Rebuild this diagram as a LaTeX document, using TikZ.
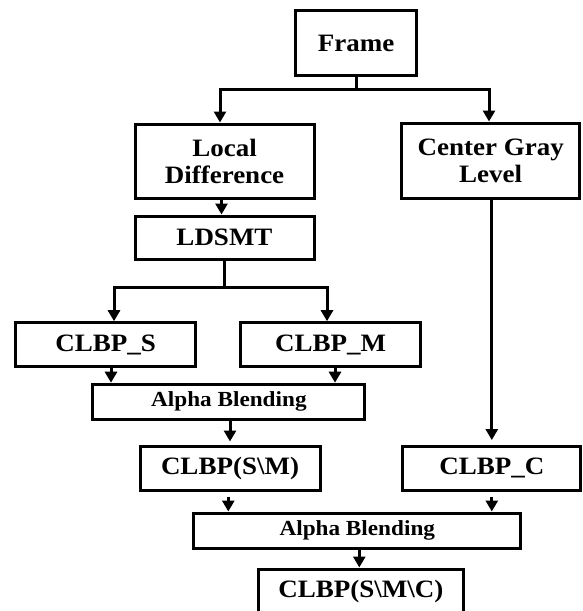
\documentclass[tikz,border=0pt]{standalone}
\usepackage{fontspec}
\setmainfont{Liberation Serif}[FakeStretch=1.08]
\usetikzlibrary{arrows.meta}
\begin{document}
\begin{tikzpicture}[x=1pt,y=-1pt,
  box/.style={draw,line width=3pt,inner sep=0pt,align=center,
    font=\fontsize{25}{27}\selectfont\bfseries},
  small/.style={font=\fontsize{21.5}{23}\selectfont\bfseries},
  ln/.style={line width=3pt},
  arr/.style={line width=3pt,-{Triangle[width=12pt,length=11pt]}}]
\useasboundingbox[fill=white] (0,0) rectangle (582,611);
\node[box,minimum width=121.5pt,minimum height=65pt] (frame) at (356,43.2) {Frame};
\node[box,minimum width=179pt,minimum height=74pt] (ld) at (224.5,161) {Local\\Difference};
\node[box,minimum width=178.5pt,minimum height=75pt] (cgl) at (490.7,160.5) {Center Gray\\Level};
\node[box,minimum width=179pt,minimum height=43pt] (ldsmt) at (224.5,237.5) {LDSMT};
\node[box,minimum width=180pt,minimum height=44pt] (clbps) at (105.6,344.7) {CLBP\_S};
\node[box,minimum width=179.5pt,minimum height=44pt] (clbpm) at (330.7,344.7) {CLBP\_M};
\node[box,small,minimum width=272pt,minimum height=35pt] (ab1) at (228.9,401.7) {Alpha Blending};
\node[box,minimum width=180pt,minimum height=44pt] (clbpsm) at (230,468) {CLBP(S\textbackslash M)};
\node[box,minimum width=178pt,minimum height=43.5pt] (clbpc) at (491.8,468.3) {CLBP\_C};
\node[box,small,minimum width=327pt,minimum height=35pt] (ab2) at (357.3,530.5) {Alpha Blending};
\node[box,minimum width=205.6pt,minimum height=44pt] (final) at (360.8,591) {CLBP(S\textbackslash M\textbackslash C)};
% frame split
\coordinate (j1) at (356,89.3);
\draw[ln] (frame.south) -- (j1);
\draw[arr] (j1) -| ([xshift=-4.5pt]ld.north);
\draw[arr] (j1) -| ([xshift=-1.7pt]cgl.north);
\draw[arr] ([xshift=-3pt]ld.south) -- ([xshift=-3pt]ldsmt.north);
% ldsmt split
\coordinate (j2) at (224.5,287);
\draw[ln] (ldsmt.south) -- (j2);
\draw[arr] (j2) -| ([xshift=8.4pt]clbps.north);
\draw[arr] (j2) -| ([xshift=-3.7pt]clbpm.north);
\draw[arr] ([xshift=5.4pt]clbps.south) -- ([xshift=5.4pt]clbps.south |- ab1.north);
\draw[arr] ([xshift=4.3pt]clbpm.south) -- ([xshift=4.3pt]clbpm.south |- ab1.north);
\draw[arr,shorten >=3pt] (ab1.south -| clbpsm) -- (clbpsm.north);
\draw[arr,shorten >=5pt] (cgl.south -| clbpc) -- (clbpc.north);
\draw[arr,shorten <=5pt] ([xshift=-1.7pt]clbpsm.south) -- ([xshift=-1.7pt]clbpsm.south |- ab2.north);
\draw[arr,shorten <=5pt] (clbpc.south) -- (clbpc.south |- ab2.north);
\draw[arr] (ab2.south -| 359.3,0) -- (final.north -| 359.3,0);
\end{tikzpicture}
\end{document}
